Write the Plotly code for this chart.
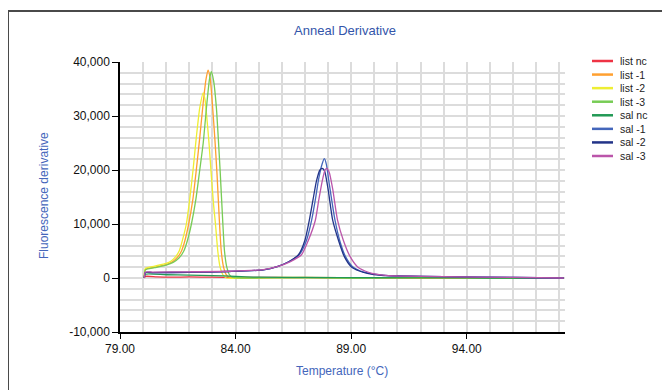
import plotly.graph_objects as go

# ---------------- data ----------------
series_names = ["list nc", "list -1", "list -2", "list -3", "sal nc", "sal -1", "sal -2", "sal -3"]
series_colors = ["#ee3344", "#ffa030", "#eeee33", "#77cc55", "#229955", "#4466bb", "#223388", "#bb55aa"]

list_nc_x = [80.05, 80.1, 80.6, 81.2, 82.0, 83.0, 84.0, 85.0, 86.5, 88.0, 90.0, 92.0, 94.0, 96.0, 98.2]
list_nc_y = [0, 300, 200, 150, 200, 150, 100, 120, 80, 50, 60, 0, 30, -20, 0]

list_1_x = [80.05, 80.1, 80.5, 81.0, 81.3, 81.5, 81.66, 81.8, 81.97, 82.15, 82.3, 82.45, 82.6, 82.72,
            82.81, 82.9, 83.0, 83.1, 83.2, 83.3, 83.38, 83.48, 83.58, 83.7, 84.0, 85.0, 87.0, 90.0,
            93.0, 96.0, 98.2]
list_1_y = [0, 1600, 2000, 2500, 3100, 3900, 5000, 6800, 10000, 14500, 20000, 26000, 32500, 36800,
            38500, 37000, 32000, 26000, 19000, 10500, 5000, 2000, 700, 200, 50, 0, 100, 50,
            0, 50, 0]

list_2_x = [80.05, 80.1, 80.5, 81.0, 81.2, 81.4, 81.56, 81.7, 81.87, 82.0, 82.16, 82.3, 82.45, 82.6,
            82.68, 82.75, 82.85, 82.95, 83.05, 83.13, 83.23, 83.33, 83.45, 83.6, 84.0, 86.0, 89.0,
            92.0, 95.0, 98.2]
list_2_y = [0, 1800, 2200, 2700, 3100, 3900, 5000, 7000, 10000, 14000, 20000, 26000, 31500, 34300,
            33000, 30000, 25000, 19000, 13500, 10000, 5000, 2000, 600, 0, -50, 100, 0,
            50, 0, 0]

list_3_x = [80.05, 80.1, 80.5, 81.0, 81.3, 81.55, 81.76, 81.92, 82.09, 82.28, 82.45, 82.6, 82.75,
            82.87, 82.95, 83.05, 83.17, 83.25, 83.33, 83.45, 83.52, 83.62, 83.72, 83.85, 84.2, 86.0,
            89.0, 92.0, 95.0, 98.2]
list_3_y = [0, 1500, 1900, 2400, 2900, 3700, 5000, 7000, 10000, 14500, 20000, 25000, 32000,
            36800, 38200, 36500, 31500, 26000, 20000, 10000, 5000, 2000, 700, 150, 0, 50,
            0, 100, 0, 0]

sal_nc_x = [80.05, 80.1, 81.0, 82.0, 83.0, 84.0, 85.0, 87.0, 90.0, 93.0, 95.0, 98.2]
sal_nc_y = [0, 700, 600, 550, 450, 300, 150, 100, 50, 30, 0, -50]

sal_1_x = [80.05, 80.1, 80.4, 82.0, 83.7, 85.2, 85.8, 86.3, 86.75, 87.07, 87.29, 87.45, 87.6, 87.75,
           87.84, 87.93, 88.05, 88.3, 88.5, 88.75, 89.06, 89.4, 89.8, 90.5, 91.0, 93.0, 96.0, 98.2]
sal_1_y = [0, 1000, 1000, 1050, 1200, 1500, 2100, 3000, 4300, 7000, 10700, 14500, 18500, 21200,
           22100, 21000, 17500, 10700, 7000, 4000, 2100, 1300, 870, 500, 370, 250, 100, 0]

sal_2_x = [80.05, 80.1, 80.4, 82.0, 83.7, 85.2, 85.8, 86.3, 86.72, 87.0, 87.19, 87.35, 87.5, 87.65,
           87.75, 87.85, 88.0, 88.2, 88.45, 88.7, 89.0, 89.35, 89.7, 90.3, 91.0, 93.0, 96.0, 98.2]
sal_2_y = [0, 1000, 1000, 1050, 1200, 1500, 2100, 3000, 4300, 7000, 10700, 14500, 18000, 20000,
           20300, 19800, 16500, 10700, 7000, 4000, 2100, 1300, 870, 500, 370, 250, 100, 0]

sal_3_x = [80.05, 80.1, 80.4, 82.0, 83.7, 85.2, 85.8, 86.35, 86.85, 87.15, 87.45, 87.6, 87.75, 87.87,
           87.95, 88.05, 88.2, 88.41, 88.66, 88.95, 89.27, 89.6, 89.9, 90.5, 91.0, 93.0, 96.0, 98.2]
sal_3_y = [0, 1100, 1100, 1150, 1250, 1550, 2100, 3000, 4300, 7000, 10700, 14500, 18000, 20000,
           20300, 19600, 16500, 10700, 7000, 4000, 2100, 1300, 870, 500, 370, 250, 100, 0]

series_x = [list_nc_x, list_1_x, list_2_x, list_3_x, sal_nc_x, sal_1_x, sal_2_x, sal_3_x]
series_y = [list_nc_y, list_1_y, list_2_y, list_3_y, sal_nc_y, sal_1_y, sal_2_y, sal_3_y]

x_range = [79.0, 98.25]
y_range = [-10000, 40000]
y_tick_values = [-10000, 0, 10000, 20000, 30000, 40000]
y_tick_labels = ["-10,000", "0", "10,000", "20,000", "30,000", "40,000"]
x_tick_values = [79, 84, 89, 94]
x_tick_labels = ["79.00", "84.00", "89.00", "94.00"]

# ---------------- figure ----------------
W, H = 670, 390
OFF = 8  # page body margin of the browser
PW, PH = 445, 270
ML, MT = 120 - OFF, 62 - OFF
MR, MB = W - ML - PW, H - MT - PH


def px_x(p):
    return (p - OFF - ML) / PW


def px_y(p):
    return (H - MB - (p - OFF)) / PH


fig = go.Figure()
for name, color, xs, ys in zip(series_names, series_colors, series_x, series_y):
    fig.add_trace(go.Scatter(
        x=xs, y=ys, name=name, mode="lines",
        line=dict(color=color, width=1.3, shape="spline", smoothing=0.6),
        showlegend=False,
    ))

blue_text = "#4466bb"
font_family = "Liberation Sans, Arial, sans-serif"

shapes = []
annotations = []

# outer frame
shapes.append(dict(type="rect", xref="paper", yref="paper",
                   x0=px_x(8), x1=px_x(W + 30), y0=px_y(H + 30), y1=px_y(11),
                   line=dict(color="#4a4a4a", width=2), fillcolor="rgba(0,0,0,0)", layer="below"))

# custom legend
for i, (name, color) in enumerate(zip(series_names, series_colors)):
    yy = px_y(61 + 13.57 * i)
    shapes.append(dict(type="line", xref="paper", yref="paper",
                       x0=px_x(592), x1=px_x(613), y0=yy, y1=yy,
                       line=dict(color=color, width=2.5)))
    annotations.append(dict(xref="paper", yref="paper", x=px_x(618), y=yy,
                            text=name, showarrow=False, xanchor="left", yanchor="middle",
                            font=dict(family=font_family, size=10.5, color="#222222")))

# axis titles
annotations.append(dict(xref="paper", yref="paper", x=px_x(44), y=px_y(196),
                        text="Fluorescence derivative", textangle=-90, showarrow=False,
                        xanchor="center", yanchor="middle",
                        font=dict(family=font_family, size=12, color=blue_text)))
annotations.append(dict(xref="paper", yref="paper", x=px_x(342), y=px_y(371),
                        text="Temperature (°C)", showarrow=False,
                        xanchor="center", yanchor="middle",
                        font=dict(family=font_family, size=12, color=blue_text)))

grid_color = "#dcdcdc"

fig.update_layout(
    width=W, height=H,
    margin=dict(l=ML, r=MR, t=MT, b=MB),
    paper_bgcolor="white", plot_bgcolor="white",
    title=dict(text="Anneal Derivative", x=(345 - OFF) / W, y=1 - (30 - OFF) / H,
               xanchor="center", yanchor="middle",
               font=dict(family=font_family, size=13, color="#3355aa")),
    showlegend=False,
    shapes=shapes,
    annotations=annotations,
    xaxis=dict(
        range=x_range, tickvals=x_tick_values, ticktext=x_tick_labels,
        ticks="outside", ticklen=5, tickcolor="black", tickwidth=1,
        showline=True, linecolor="black", linewidth=1.5,
        showgrid=True, gridcolor=grid_color, gridwidth=1.5, zeroline=False,
        minor=dict(tick0=79, dtick=1, showgrid=True, gridcolor=grid_color, gridwidth=1.5),
        tickfont=dict(family=font_family, size=12, color="#111111"),
        fixedrange=True,
    ),
    yaxis=dict(
        range=y_range, tickvals=y_tick_values, ticktext=y_tick_labels,
        ticks="outside", ticklen=6, tickcolor="black", tickwidth=1,
        showline=True, linecolor="black", linewidth=1.5,
        showgrid=True, gridcolor=grid_color, gridwidth=1.5, zeroline=False,
        minor=dict(tick0=0, dtick=2000, showgrid=True, gridcolor=grid_color, gridwidth=1.5),
        tickfont=dict(family=font_family, size=12, color="#111111"),
        fixedrange=True,
    ),
)

fig.write_html("out.html")
